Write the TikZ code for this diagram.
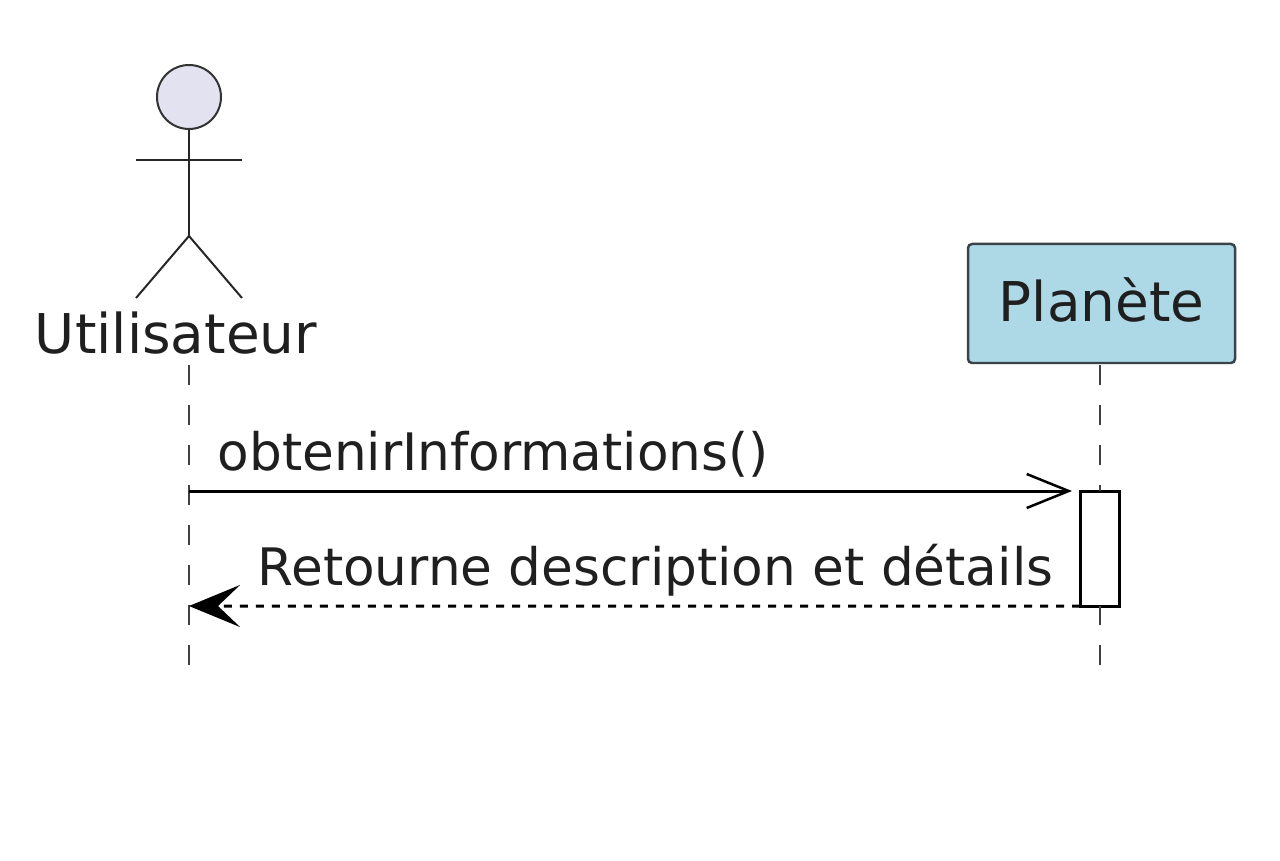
\documentclass[tikz,border=0pt]{standalone}
\usepackage{fontspec}
\setmainfont{DejaVu Sans}
\usetikzlibrary{arrows.meta}
\definecolor{headfill}{HTML}{E2E2F0}
\definecolor{boxfill}{HTML}{ADD8E6}
\definecolor{boxline}{HTML}{3A4448}
\tikzset{
  label/.style={inner sep=0pt, text=black!88, font=\fontsize{15.6pt}{18pt}\selectfont},
  message/.style={inner sep=0pt, text=black!88, font=\fontsize{14.7pt}{18pt}\selectfont},
  limb/.style={line width=0.02cm, black!85},
  lifeline/.style={line width=0.02cm, black!75, dash pattern=on 0.2cm off 0.2cm},
  call/.style={line width=0.03cm, -{Straight Barb[length=0.42cm, width=0.34cm, line width=0.025cm]}},
  reply/.style={line width=0.03cm, dash pattern=on 0.08cm off 0.08cm, -{Stealth[length=0.51cm, width=0.42cm, inset=0.22cm]}}
}
\begin{document}
\begin{tikzpicture}[auto]
      \useasboundingbox (0, 0) rectangle (12.8, 8.6);
      \node[circle, draw=black!80, fill=headfill, line width=0.02cm, minimum size=0.64cm, inner sep=0pt] (head) at (1.89, 7.63) {};
      \coordinate (armL) at (1.36, 6.995);
      \coordinate (armR) at (2.42, 6.995);
      \coordinate (hip) at (1.89, 6.24);
      \coordinate (footL) at (1.36, 5.62);
      \coordinate (footR) at (2.42, 5.62);
      \node[label, anchor=base] (user) at (1.76, 5.06) {Utilisateur};
      \node[label, rectangle, rounded corners=0.04cm, draw=boxline, fill=boxfill, line width=0.025cm, minimum width=2.67cm, minimum height=1.19cm, text depth=0.08cm] (planet) at (11.015, 5.565) {Planète};
      \coordinate (userTop) at (1.89, 4.95);
      \coordinate (userEnd) at (1.89, 1.95);
      \coordinate (planetEnd) at (10.995, 1.95);
      \coordinate (callStart) at (1.89, 3.69);
      \coordinate (callEnd) at (10.72, 3.69);
      \node[rectangle, draw=black, fill=white, line width=0.03cm, minimum width=0.39cm, minimum height=1.15cm, inner sep=0pt, outer sep=0pt] (bar) at (10.995, 3.115) {};
      \coordinate (planetTop) at (10.995, 4.95);
      \coordinate (replyEnd) at (1.89, 2.54);
      \node[message, anchor=base west] (ask) at (2.17, 3.90) {obtenirInformations()};
      \node[message, anchor=base west] (answer) at (2.57, 2.75) {Retourne description et détails};
      \draw [limb] (head) to (hip);
      \draw [limb] (armL) to (armR);
      \draw [limb] (footL) to (hip);
      \draw [limb] (hip) to (footR);
      \draw [lifeline] (userTop) to (userEnd);
      \draw [lifeline] (planetTop) to (bar.north);
      \draw [lifeline] (planetEnd) to (bar.south);
      \draw [call] (callStart) to (callEnd);
      \draw [reply] (bar.south west) to (replyEnd);
\end{tikzpicture}
\end{document}
